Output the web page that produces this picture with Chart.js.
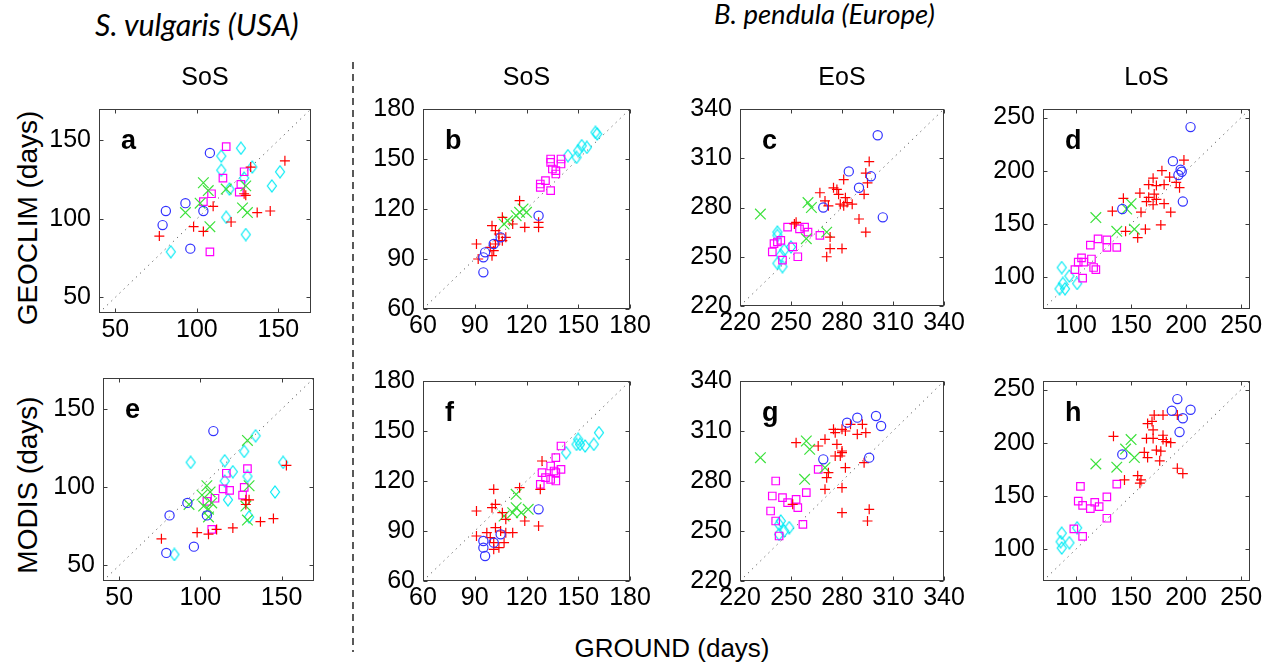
<!DOCTYPE html>
<html>
<head>
<meta charset="utf-8">
<script src="https://cdn.jsdelivr.net/npm/chart.js@4.4.0/dist/chart.umd.min.js"></script>
<style>
  body { margin: 0; background: #fff; width: 1272px; height: 670px; overflow: hidden; position: relative;
         font-family: "Liberation Sans", Arial, sans-serif; }
  canvas { position: absolute; }
  .t { position: absolute; white-space: nowrap; color: #000; }
  .title { font-size: 25px; line-height: 25px; text-align: center; }
  .head { font-family: Lato, "Open Sans", sans-serif; font-style: italic; font-size: 24px; line-height: 28px; }
  .ylab { font-size: 28px; line-height: 30px; width: 300px; height: 30px; text-align: center; transform: rotate(-90deg); }
</style>
</head>
<body>

<div class="t head" id="h1" style="left:95px;top:10px;">S. vulgaris (USA)</div>
<div class="t head" id="h2" style="left:714px;top:0px;">B. pendula (Europe)</div>
<div class="t ylab" style="left:-122px;top:203px;">GEOCLIM (days)</div>
<div class="t ylab" style="left:-122px;top:470px;">MODIS (days)</div>
<div class="t" style="left:522px;top:635px;width:300px;text-align:center;font-size:26px;line-height:26px;">GROUND (days)</div>
<svg style="position:absolute;left:0;top:0" width="1272" height="670">
  <line x1="353" y1="62" x2="353" y2="652" stroke="#000" stroke-width="1.3" stroke-dasharray="7,5"/>
</svg>

<script>
// ---- data: [ground, product] pairs, one array per marker group ----
// a: S. vulgaris SoS, GEOCLIM
const aCircle  = [[108,142],[81,105],[79,96],[93,110],[104,105],[96,81]];
const aPlus    = [[77,89],[98,95],[104,92],[110,108],[121,98],[133,133],[129,116],[130,115],[137,104],[145,105],[154,137]];
const aCross   = [[104,123],[107,118],[102,110],[93,104],[108,95],[118,119],[130,121],[128,107],[131,104]];
const aSquare  = [[118,146],[116,126],[109,116],[104,111],[129,130],[127,122],[126,117],[108,79]];
const aDiamond = [[127,145],[115,140],[115,131],[134,133],[120,119],[129,126],[146,121],[151,130],[118,101],[130,90],[84,79]];
// b: B. pendula SoS, GEOCLIM
const bCircle  = [[127,116],[105,103],[101,99],[96,94],[95,91],[95,82]];
const bPlus    = [[116,125],[127,112],[127,109],[119,109],[112,111],[106,115],[100,110],[102,107],[104,105],[108,103],[104,101],[102,99],[101,95],[100,92],[91,99],[92,90],[106,101],[99,97]];
const bCross   = [[118,120],[116,118],[120,118],[114,116],[109,113],[107,111]];
const bSquare  = [[134,150],[134,148],[135,144],[137,143],[137,141],[140,150],[140,147],[131,137],[128,135],[128,133],[134,131]];
const bDiamond = [[144,152],[149,151],[150,155],[152,158],[155,157],[160,166],[161,165]];
// c: B. pendula EoS, GEOCLIM
const cCircle  = [[301,324],[284,302],[297,299],[290,292],[269,280],[304,274]];
const cPlus    = [[296,308],[294,301],[295,295],[293,288],[290,273],[294,265],[281,297],[275,292],[277,291],[278,288],[267,289],[270,284],[282,286],[279,282],[281,281],[286,282],[272,281],[283,283],[253,271],[252,270],[273,262],[273,255],[271,250],[280,255]];
const cCross   = [[232,276],[260,283],[262,280],[271,265],[259,261]];
const cSquare  = [[248,268],[255,267],[258,268],[260,265],[267,263],[240,258],[242,259],[244,260],[239,253],[245,248],[254,250],[251,256]];
const cDiamond = [[242,265],[242,263],[246,254],[244,251],[242,246],[245,244],[250,256]];
// d: B. pendula LoS, GEOCLIM
const dCircle  = [[204,241],[188,209],[195,201],[196,199],[193,196],[197,171],[142,164]];
const dPlus    = [[198,210],[178,200],[170,193],[185,194],[191,189],[194,184],[158,179],[166,187],[173,186],[180,187],[166,175],[171,178],[173,173],[164,171],[170,168],[180,169],[186,161],[159,161],[143,174],[133,162],[145,143],[156,137],[163,145],[177,149]];
const dCross   = [[118,156],[150,169],[146,164],[137,143],[153,145]];
const dSquare  = [[120,136],[128,135],[113,130],[128,128],[137,128],[105,118],[102,114],[107,114],[114,117],[116,109],[118,107],[99,107],[106,99]];
const dDiamond = [[87,109],[94,101],[101,94],[88,94],[85,89],[90,89]];
// e: S. vulgaris SoS, MODIS
const eCircle  = [[108,136],[92,90],[81,82],[104,82],[96,62],[79,58]];
const ePlus    = [[76,67],[98,71],[105,70],[110,73],[120,74],[128,92],[130,92],[128,89],[137,78],[145,80],[153,114]];
const eCross   = [[129,130],[130,101],[104,101],[106,97],[101,95],[102,88],[105,86],[93,89],[107,90],[128,88],[129,79],[105,81]];
const eSquare  = [[116,109],[118,98],[114,99],[109,93],[104,91],[129,112],[127,100],[126,95],[107,73]];
const eDiamond = [[134,133],[127,123],[94,116],[115,117],[120,110],[115,104],[129,107],[151,116],[146,97],[117,92],[130,81],[84,57]];
// f: B. pendula SoS, MODIS
const fCircle  = [[127,103],[105,88],[101,83],[95,84],[95,80],[96,75]];
const fPlus    = [[101,115],[116,116],[128,115],[129,132],[91,102],[100,104],[102,106],[106,101],[108,97],[119,96],[127,93],[102,92],[105,90],[112,89],[108,89],[91,87],[97,89],[99,86],[101,83],[104,80],[107,83],[101,79]];
const fCross   = [[114,112],[107,99],[114,104],[117,101],[121,103],[112,101]];
const fSquare  = [[140,141],[137,134],[134,129],[129,125],[131,122],[134,121],[136,126],[137,125],[140,127],[137,120],[128,118]];
const fDiamond = [[143,137],[149,142],[150,145],[151,142],[154,141],[159,142],[162,149]];
// g: B. pendula EoS, MODIS
const gCircle  = [[283,315],[289,318],[300,319],[303,313],[269,293],[296,294]];
const gPlus    = [[275,311],[276,309],[280,311],[282,310],[285,314],[292,314],[294,309],[289,308],[270,305],[266,301],[253,303],[277,302],[280,298],[280,297],[276,295],[279,295],[282,288],[272,285],[271,282],[270,275],[280,276],[293,291],[296,263],[295,256],[280,261],[251,266]];
const gCross   = [[232,294],[259,304],[261,299],[258,281],[270,288]];
const gSquare  = [[241,280],[239,271],[245,270],[253,269],[259,273],[248,267],[254,264],[238,262],[241,256],[257,254],[243,247],[266,287]];
const gDiamond = [[244,256],[243,254],[246,250],[249,252],[243,248]];
// h: B. pendula LoS, MODIS
const hCircle  = [[192,241],[187,230],[197,223],[204,231],[194,210],[142,189]];
const hPlus    = [[171,226],[179,226],[169,220],[165,218],[192,226],[170,212],[164,204],[170,204],[179,207],[182,201],[179,203],[186,200],[173,193],[177,192],[176,183],[162,191],[165,186],[134,206],[144,165],[156,169],[159,165],[158,162],[192,176],[197,171]];
const hCross   = [[118,180],[137,177],[145,194],[150,203],[153,186]];
const hSquare  = [[104,159],[137,161],[128,149],[102,145],[106,141],[117,144],[121,140],[113,138],[128,129],[98,119],[106,112]];
const hDiamond = [[101,120],[87,115],[86,107],[94,106],[87,101]];

// axis ranges and tick labels
const rangeSv  = [40, 170];   const ticksSv  = [50, 100, 150];
const rangeSoS = [60, 180];   const ticksSoS = [60, 90, 120, 150, 180];
const rangeEoS = [220, 340];  const ticksEoS = [220, 250, 280, 310, 340];
const rangeLoS = [70, 258];   const ticksLoS = [100, 150, 200, 250];

const titles = ['SoS', 'SoS', 'EoS', 'LoS'];

// ---- layout ----
const YW = 60, PT = 16, PR = 28, XH = 40;
const tickFont = { family: '"Liberation Sans", Arial, sans-serif', size: 25 };

function diamondImage(color) {
  const c = document.createElement('canvas');
  c.width = 12; c.height = 14;
  const g = c.getContext('2d');
  g.strokeStyle = color; g.lineWidth = 1.2;
  g.beginPath();
  g.moveTo(6, 1); g.lineTo(10.5, 7); g.lineTo(6, 13); g.lineTo(1.5, 7); g.closePath();
  g.stroke();
  return c;
}

const styles = [
  { style: 'circle',   r: 4.6, color: 'rgb(50,50,255)' },
  { style: 'cross',    r: 5,   color: 'rgb(255,0,0)' },
  { style: 'crossRot', r: 7.5, color: 'rgb(60,225,60)' },
  { style: 'rect',     r: 5.3, color: 'rgb(255,0,255)' },
  { style: diamondImage('rgb(0,235,245)'), r: 5, color: 'rgb(0,235,245)' }
];

function framePlugin(letter) {
  return {
    id: 'frame' + letter,
    afterDraw(chart) {
      const { ctx, chartArea: a, scales } = chart;
      ctx.save();
      ctx.strokeStyle = '#3c3c3c';
      ctx.lineWidth = 1;
      const L = Math.round(a.left) + 0.5, R = Math.round(a.right) - 0.5;
      const T = Math.round(a.top) + 0.5, B = Math.round(a.bottom) - 0.5;
      ctx.strokeRect(L, T, R - L, B - T);
      ctx.beginPath();
      scales.x.ticks.forEach(t => {
        const px = Math.round(scales.x.getPixelForValue(t.value)) + 0.5;
        ctx.moveTo(px, B); ctx.lineTo(px, B - 4);
        ctx.moveTo(px, T); ctx.lineTo(px, T + 4);
      });
      scales.y.ticks.forEach(t => {
        const py = Math.round(scales.y.getPixelForValue(t.value)) + 0.5;
        ctx.moveTo(L, py); ctx.lineTo(L + 4, py);
        ctx.moveTo(R, py); ctx.lineTo(R - 4, py);
      });
      ctx.stroke();
      ctx.fillStyle = '#000';
      ctx.font = 'bold 27px "Liberation Sans", Arial, sans-serif';
      ctx.textBaseline = 'alphabetic';
      ctx.fillText(letter, a.left + 22, a.top + 40);
      ctx.restore();
    }
  };
}

function panel(letter, box, range, ticks, sets, title) {
  const cv = document.createElement('canvas');
  const W = box.w + YW + PR, H = box.h + PT + XH;
  cv.width = W; cv.height = H;
  cv.style.left = (box.x - YW) + 'px';
  cv.style.top = (box.y - PT) + 'px';
  cv.style.width = W + 'px'; cv.style.height = H + 'px';
  document.body.appendChild(cv);

  if (title) {
    const d = document.createElement('div');
    d.className = 't title';
    d.style.left = box.x + 'px'; d.style.width = box.w + 'px';
    d.style.top = '64px';
    d.textContent = title;
    document.body.appendChild(d);
  }

  const datasets = [{
    type: 'line',
    data: [{ x: range[0], y: range[0] }, { x: range[1], y: range[1] }],
    borderColor: '#555', borderWidth: 1, borderDash: [1.2, 4.5],
    pointRadius: 0, order: 10
  }];
  styles.forEach((s, i) => {
    datasets.push({
      data: sets[i].map(p => ({ x: p[0], y: p[1] })),
      pointStyle: s.style, pointRadius: s.r,
      pointBorderColor: s.color, pointBackgroundColor: 'rgba(0,0,0,0)',
      pointBorderWidth: 1.2, borderColor: s.color
    });
  });

  const axis = (fit, pad) => ({
    type: 'linear', min: range[0], max: range[1],
    afterBuildTicks: s => { s.ticks = ticks.map(v => ({ value: v })); },
    afterFit: fit,
    grid: { display: false, drawTicks: false },
    border: { display: false },
    ticks: { font: tickFont, color: '#000', padding: pad, maxRotation: 0, autoSkip: false }
  });

  new Chart(cv, {
    type: 'scatter',
    data: { datasets },
    options: {
      responsive: false, animation: false, events: [],
      layout: { padding: { left: 0, top: PT, right: PR, bottom: 0 } },
      plugins: { legend: { display: false }, tooltip: { enabled: false } },
      scales: {
        x: axis(s => { s.height = XH; }, 2),
        y: axis(s => { s.width = YW; }, 8)
      }
    },
    plugins: [framePlugin(letter)]
  });
}

panel('a', { x: 99,   y: 102, w: 212, h: 211 }, rangeSv,  ticksSv,  [aCircle, aPlus, aCross, aSquare, aDiamond], titles[0]);
panel('b', { x: 423,  y: 102, w: 207, h: 207 }, rangeSoS, ticksSoS, [bCircle, bPlus, bCross, bSquare, bDiamond], titles[1]);
panel('c', { x: 740,  y: 102, w: 204, h: 204 }, rangeEoS, ticksEoS, [cCircle, cPlus, cCross, cSquare, cDiamond], titles[2]);
panel('d', { x: 1043, y: 102, w: 207, h: 207 }, rangeLoS, ticksLoS, [dCircle, dPlus, dCross, dSquare, dDiamond], titles[3]);
panel('e', { x: 103,  y: 371, w: 211, h: 210 }, rangeSv,  ticksSv,  [eCircle, ePlus, eCross, eSquare, eDiamond]);
panel('f', { x: 423,  y: 374, w: 207, h: 207 }, rangeSoS, ticksSoS, [fCircle, fPlus, fCross, fSquare, fDiamond]);
panel('g', { x: 740,  y: 374, w: 204, h: 207 }, rangeEoS, ticksEoS, [gCircle, gPlus, gCross, gSquare, gDiamond]);
panel('h', { x: 1043, y: 374, w: 207, h: 207 }, rangeLoS, ticksLoS, [hCircle, hPlus, hCross, hSquare, hDiamond]);

// fit the italic headers to their measured widths in the figure
[['h1', 204], ['h2', 221]].forEach(([id, w]) => {
  const el = document.getElementById(id);
  el.style.fontSize = (24 * w / el.offsetWidth).toFixed(1) + 'px';
});
</script>
</body>
</html>
